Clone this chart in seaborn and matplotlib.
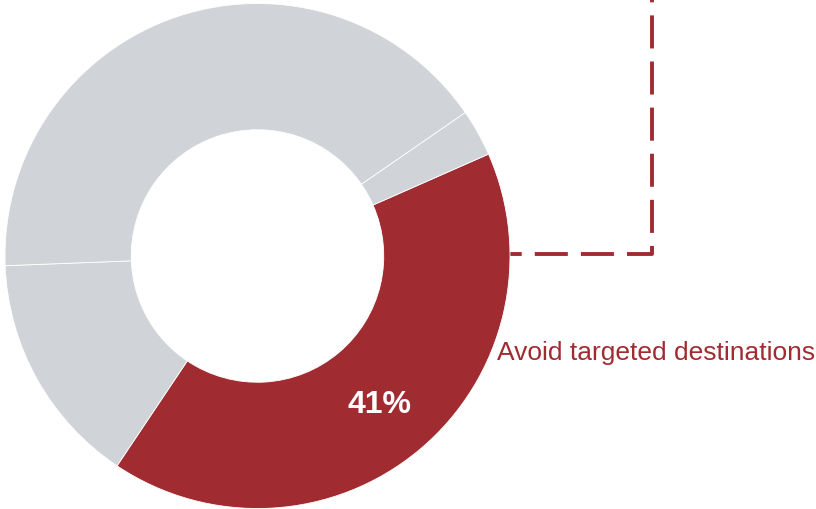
import matplotlib
matplotlib.use("Agg")
import matplotlib.pyplot as plt
import seaborn as sns
import numpy as np

sns.set_theme(style="white")
plt.rcParams['font.family'] = ['Liberation Sans', 'DejaVu Sans']
plt.rcParams['lines.scale_dashes'] = False

# Data
categories = ["Avoid targeted destinations", "Other A", "Other B", "Other C"]
values = [41, 15, 41, 3]
highlight_label = "41%"

RED = "#A02C32"
GRAY = "#D0D3D8"
colors = [RED, GRAY, GRAY, GRAY]

W, H = 816, 510
fig = plt.figure(figsize=(W / 100, H / 100), dpi=100)
ax = fig.add_axes([0, 0, 1, 1])

cx, cy, R = 257.5, 253, 252.5
wedges, _ = ax.pie(values, colors=colors, startangle=23.8, counterclock=False,
                   center=(cx, cy), radius=R, frame=True,
                   wedgeprops=dict(width=R * 0.5, edgecolor="white", linewidth=0.6))
for w in wedges:
    w.set_zorder(3)
ax.set_xlim(0, W)
ax.set_ylim(0, H)
ax.set_aspect("equal")
ax.axis("off")

# Dashed connector line
ax.plot([652, 652, 490], [H + 2, 255, 255], color=RED, lw=2.8,
        linestyle=(21.4, (23.8, 9.4)), zorder=1, solid_capstyle="butt",
        dash_capstyle="butt")

# Percentage label at wedge midpoint
mid = np.deg2rad(23.8 - values[0] / 100 * 360 / 2)
rm = R * 0.75
ax.text(cx + rm * np.cos(mid), cy + rm * np.sin(mid) - 3, highlight_label,
        color="white", fontsize=23, fontweight="bold",
        ha="center", va="center", zorder=5)

ax.text(497, 510 - 353, categories[0], color=RED, fontsize=19,
        ha="left", va="center", zorder=5)

fig.savefig("out.png", dpi=100)
